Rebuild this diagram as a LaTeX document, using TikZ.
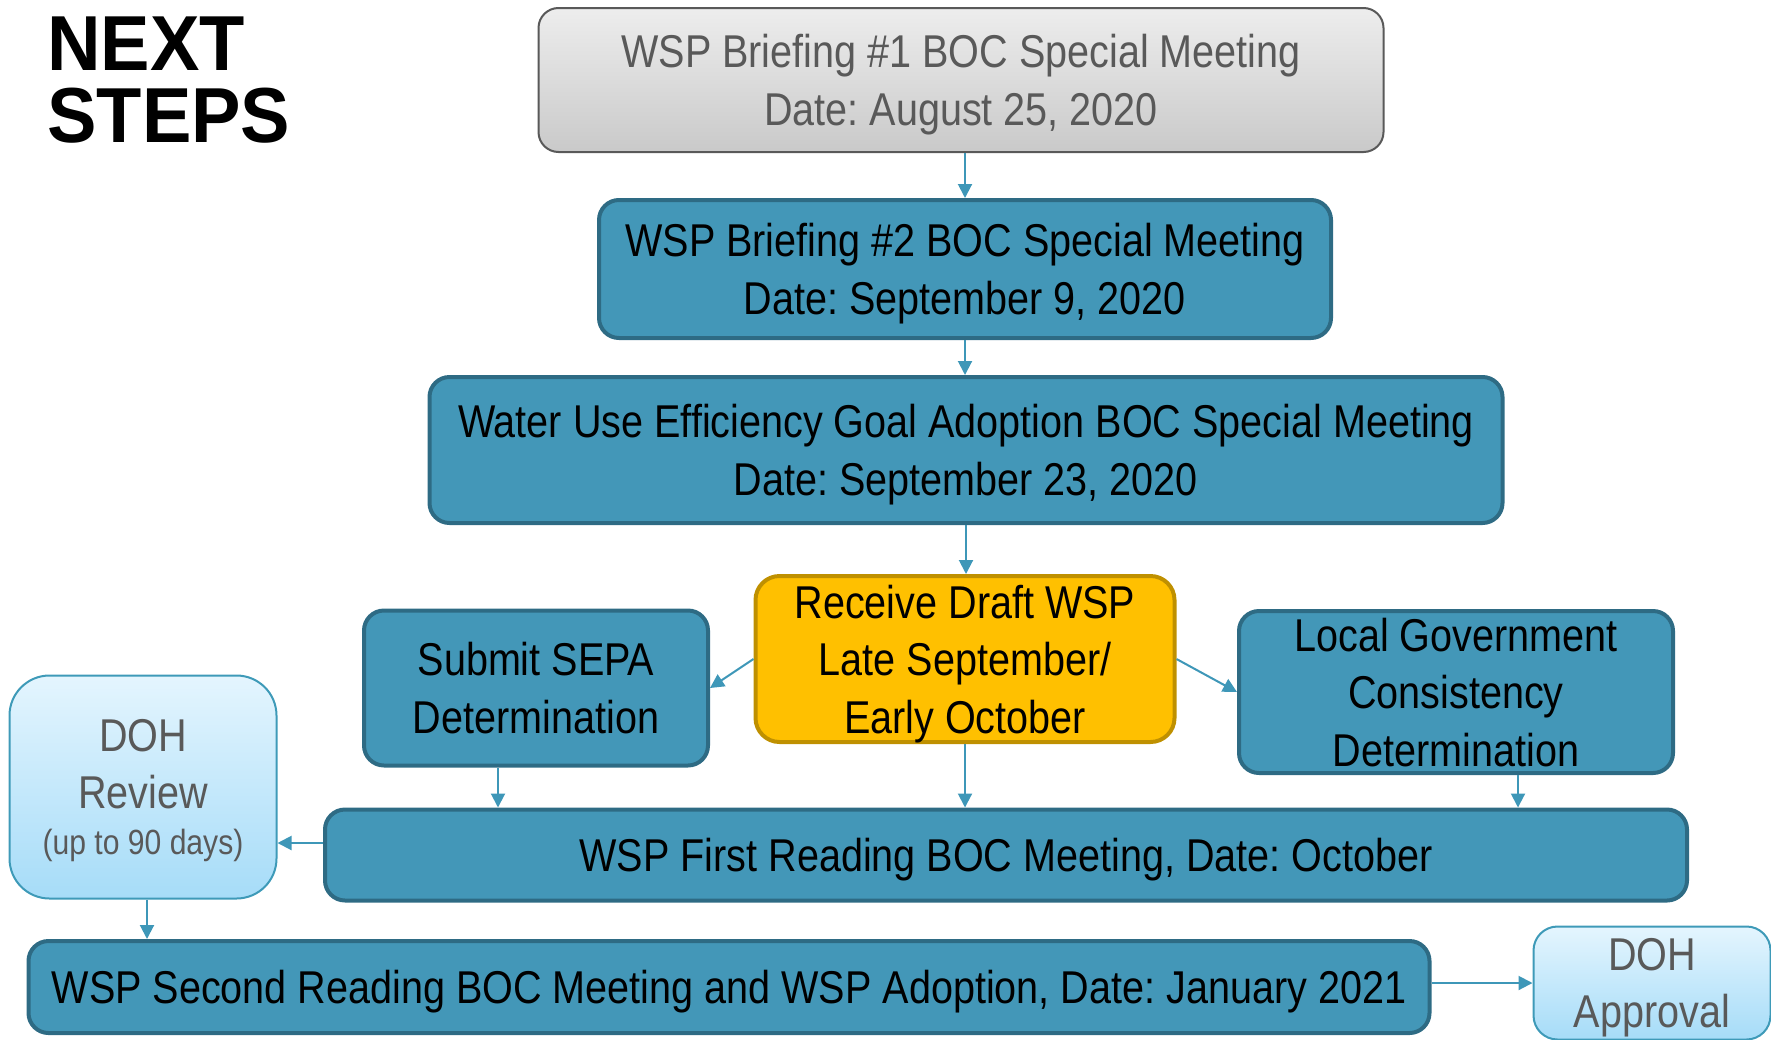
\documentclass[tikz,border=0pt]{standalone}
\usepackage{fontspec}
\setmainfont{Liberation Sans}[FakeStretch=0.86]
\newfontfamily\headfont{Liberation Sans}[FakeStretch=0.95]
\usetikzlibrary{arrows.meta}
\definecolor{tealfill}{HTML}{4397B8}
\definecolor{tealline}{HTML}{2E6B84}
\definecolor{arrowblue}{HTML}{3E97B8}
\definecolor{goldfill}{HTML}{FFC000}
\definecolor{goldline}{HTML}{BF9000}
\definecolor{greytext}{HTML}{595959}
\definecolor{dohtop}{HTML}{E4F5FE}
\definecolor{dohbottom}{HTML}{A6DCF8}
\definecolor{dohline}{HTML}{3E9AB8}
\frenchspacing

\begin{document}
\begin{tikzpicture}[x=0.5pt,y=-0.5pt]
          \tikzstyle{every node}=[align=center,inner sep=0pt,text depth=0pt,font=\fontsize{23}{28.75}\selectfont];
          \tikzstyle{tealbox}=[draw=tealline,fill=tealfill,line width=2pt,rounded corners=10pt];
          \tikzstyle{greybox}=[draw=greytext,line width=1pt,rounded corners=10pt,top color=black!7,bottom color=black!21,text=greytext];
          \tikzstyle{goldbox}=[draw=goldline,fill=goldfill,line width=2pt,rounded corners=12pt];
          \tikzstyle{dohbox}=[draw=dohline,line width=1pt,top color=dohtop,bottom color=dohbottom,text=greytext];
          \tikzstyle{arr}=[draw=arrowblue,line width=1pt,-{Triangle[width=7pt,length=7pt]}];
          \useasboundingbox (0,0) rectangle (1771,1039);
          \clip (0,0) rectangle (1771,1039);
          %\node (name) at (x,y) [style,minimum width=..] {text};
          \node (title) at (47,16) [anchor=north west,align=left,text depth=,font=\headfont\bfseries\fontsize{39}{36}\selectfont] {NEXT\\STEPS};
          \node (b1) at (961,80) [greybox,minimum width=422.5pt,minimum height=72pt] {WSP Briefing \#1 BOC Special Meeting\\Date: August 25, 2020};
          \node (b2) at (965,269) [tealbox,minimum width=366pt,minimum height=69pt] {WSP Briefing \#2 BOC Special Meeting\\Date: September 9, 2020};
          \node (b3) at (966,450) [tealbox,minimum width=536.5pt,minimum height=73pt] {Water Use Efficiency Goal Adoption BOC Special Meeting\\Date: September 23, 2020};
          \node (draft) at (965,659) [goldbox,minimum width=209.5pt,minimum height=83pt] {Receive Draft WSP\\Late September/\\Early October};
          \node (sepa) at (536,688) [tealbox,minimum width=172pt,minimum height=77.5pt] {Submit SEPA\\Determination};
          \node (local) at (1456,692) [tealbox,minimum width=217pt,minimum height=81pt] {Local Government\\Consistency\\Determination};
          \node (first) at (1006,855) [tealbox,minimum width=681pt,minimum height=45.5pt] {WSP First Reading BOC Meeting, Date: October};
          \node (review) at (143,787) [dohbox,rounded corners=20pt,minimum width=133.5pt,minimum height=111.5pt] {DOH\\Review\\[-5.6pt]{\fontsize{17.5}{22}\selectfont (up to 90 days)}};
          \node (second) at (729,987) [tealbox,minimum width=700.5pt,minimum height=46pt] {WSP Second Reading BOC Meeting and WSP Adoption, Date: January 2021};
          \node (approval) at (1652,983) [dohbox,rounded corners=12pt,minimum width=118.5pt,minimum height=56.5pt] {DOH\\Approval};
          %\draw [arr] (from) -- (to);
          \draw[arr] (b2.north |- b1.south) -- (b2.north);
          \draw[arr] (b2.south) -- (b2.south |- b3.north);
          \draw[arr] (b3.south) -- (b3.south |- draft.north);
          \draw[arr] (draft.west) -- (sepa.east);
          \draw[arr] (draft.east) -- (local.west);
          \draw[arr] ([xshift=-19pt]sepa.south) -- ([xshift=-19pt]sepa.south |- first.north);
          \draw[arr] (draft.south) -- (draft.south |- first.north);
          \draw[arr] ([xshift=31pt]local.south) -- ([xshift=31pt]local.south |- first.north);
          \draw[arr] ([yshift=6pt]first.west) -- ([yshift=6pt]first.west -| review.east);
          \draw[arr] ([xshift=2pt]review.south) -- ([xshift=2pt]review.south |- second.north);
          \draw[arr] (second.east |- approval.west) -- (approval.west);
\end{tikzpicture}
\end{document}
